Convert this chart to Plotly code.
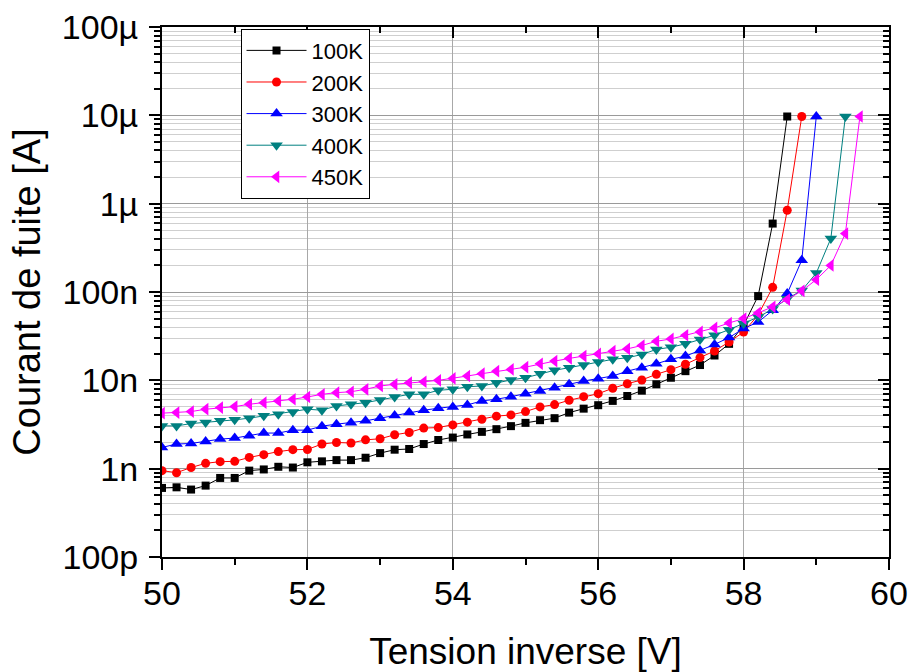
import plotly.graph_objects as go

# tension inverse [V], pas de 0.2 V
VOLTS = [50.0, 50.2, 50.4, 50.6, 50.8, 51.0, 51.2, 51.4, 51.6, 51.8,
         52.0, 52.2, 52.4, 52.6, 52.8, 53.0, 53.2, 53.4, 53.6, 53.8,
         54.0, 54.2, 54.4, 54.6, 54.8, 55.0, 55.2, 55.4, 55.6, 55.8,
         56.0, 56.2, 56.4, 56.6, 56.8, 57.0, 57.2, 57.4, 57.6, 57.8,
         58.0, 58.2, 58.4, 58.6, 58.8, 59.0, 59.2, 59.4, 59.6]

# courant de fuite [nA]
I_100K = [0.605, 0.615, 0.58, 0.643, 0.785, 0.785, 0.95, 0.98, 1.05, 1.03,
          1.18, 1.21, 1.25, 1.25, 1.33, 1.50, 1.64, 1.67, 1.90, 2.11,
          2.25, 2.44, 2.61, 2.80, 3.03, 3.30, 3.54, 3.73, 4.31, 4.78,
          5.23, 5.85, 6.65, 7.64, 9.02, 10.7, 12.7, 14.9, 19.1, 25.9,
          42, 90, 595, 9700]
I_200K = [0.95, 0.90, 1.03, 1.15, 1.20, 1.21, 1.34, 1.44, 1.56, 1.64,
          1.65, 1.90, 1.98, 1.95, 2.12, 2.18, 2.42, 2.57, 2.88, 2.92,
          3.13, 3.36, 3.63, 3.93, 4.06, 4.43, 5.00, 5.31, 5.95, 6.53,
          7.06, 8.13, 9.16, 10.1, 11.7, 13.2, 15.2, 18.1, 21.5, 27.2,
          35.2, 55, 113, 842, 9700]
I_300K = [1.74, 1.90, 1.93, 2.03, 2.16, 2.22, 2.36, 2.53, 2.53, 2.73,
          2.73, 3.03, 3.19, 3.30, 3.48, 3.73, 3.99, 4.31, 4.59, 4.83,
          5.00, 5.27, 5.85, 6.11, 6.53, 7.06, 7.57, 8.26, 9.02, 9.82,
          10.4, 11.2, 12.7, 13.9, 15.4, 17.3, 18.8, 21.8, 25.5, 30.5,
          38.5, 45.7, 62, 96, 229, 9700]
I_400K = [3.05, 3.05, 3.24, 3.33, 3.48, 3.57, 3.73, 3.96, 4.14, 4.39,
          4.71, 4.59, 5.13, 5.36, 5.59, 6.00, 6.48, 6.95, 6.95, 7.71,
          7.92, 8.47, 8.63, 9.40, 10.1, 10.7, 11.9, 13.0, 13.9, 14.9,
          16.1, 17.3, 18.0, 19.6, 22.4, 23.7, 25.9, 29.0, 32.4, 37.5,
          43.9, 52, 64, 84, 104, 164, 403, 9700]
I_450K = [4.25, 4.31, 4.43, 4.71, 4.91, 5.04, 5.36, 5.59, 5.85, 6.11,
          6.48, 6.95, 7.25, 7.43, 7.92, 8.63, 9.02, 9.40, 9.64, 10.0,
          10.5, 11.2, 11.9, 12.7, 13.3, 14.1, 15.4, 16.5, 17.7, 18.8,
          19.9, 21.4, 22.7, 24.8, 27.7, 29.4, 32.4, 35.3, 39.2, 44.6,
          50, 58, 68, 82, 103, 138, 200, 459, 9700]

Y_TICKS = [1e-10, 1e-9, 1e-8, 1e-7, 1e-6, 1e-5, 1e-4]
Y_LABELS = ["100p", "1n", "10n", "100n", "1µ", "10µ", "100µ"]
Y_MINOR = [m * d for d in Y_TICKS[:-1] for m in range(2, 10)]

FONT = "Arial, Liberation Sans, sans-serif"

series = [
    ("100K", I_100K, "black", "square", 8),
    ("200K", I_200K, "#ff0000", "circle", 9),
    ("300K", I_300K, "#0000ff", "triangle-up", 11),
    ("400K", I_400K, "#008080", "triangle-down", 11),
    ("450K", I_450K, "#ff00ff", "triangle-left", 11),
]

fig = go.Figure()
for name, vals, color, symbol, size in series:
    fig.add_trace(go.Scatter(
        x=VOLTS[:len(vals)],
        y=[v * 1e-9 for v in vals],
        mode="lines+markers",
        name=name,
        line=dict(color=color, width=1),
        marker=dict(color=color, symbol=symbol, size=size, line=dict(width=0)),
    ))

# axes haut / droite (ticks vers l'intérieur)
fig.add_trace(go.Scatter(x=[None], y=[None], xaxis="x2", yaxis="y2",
                         showlegend=False, hoverinfo="skip"))

axis_common = dict(showline=True, linecolor="black", linewidth=2,
                   tickcolor="black", tickwidth=2, automargin=False)

fig.update_layout(
    width=909, height=672,
    margin=dict(l=162, r=20, t=27, b=115),
    paper_bgcolor="white", plot_bgcolor="white",
    font=dict(family=FONT, color="black"),
    xaxis=dict(
        range=[50, 60], tickvals=[50, 52, 54, 56, 58, 60],
        ticks="outside", ticklen=11,
        tickfont=dict(size=34), ticklabelstandoff=-6,
        ticklabeloverflow="allow",
        showgrid=True, gridcolor="#a8a8a8", gridwidth=1,
        minor=dict(tickvals=[51, 53, 55, 57, 59], ticks="outside",
                   ticklen=6, tickcolor="black", tickwidth=2, showgrid=False),
        title=dict(text="Tension inverse [V]", font=dict(size=37), standoff=35),
        zeroline=False, **axis_common,
    ),
    yaxis=dict(
        type="log", range=[-10, -4],
        tickvals=Y_TICKS, ticktext=Y_LABELS,
        ticks="outside", ticklen=11,
        tickfont=dict(size=34), ticklabelstandoff=4,
        ticklabeloverflow="allow",
        showgrid=True, gridcolor="#9a9a9a", gridwidth=1,
        minor=dict(tickvals=Y_MINOR, ticks="outside", ticklen=6,
                   tickcolor="black", tickwidth=2,
                   showgrid=True, gridcolor="#cfcfcf", gridwidth=1),
        title=dict(text="Courant de fuite [A]", font=dict(size=38), standoff=10),
        zeroline=False, **axis_common,
    ),
    xaxis2=dict(
        overlaying="x", side="top", anchor="y2", range=[50, 60],
        tickvals=[50, 52, 54, 56, 58, 60], ticks="inside", ticklen=11,
        showticklabels=False, showgrid=False,
        minor=dict(tickvals=[51, 53, 55, 57, 59], ticks="inside",
                   ticklen=6, tickcolor="black", tickwidth=2),
        **axis_common,
    ),
    yaxis2=dict(
        overlaying="y", side="right", anchor="x2", type="log", range=[-10, -4],
        tickvals=Y_TICKS, ticks="inside", ticklen=11,
        showticklabels=False, showgrid=False,
        minor=dict(tickvals=Y_MINOR, ticks="inside", ticklen=6,
                   tickcolor="black", tickwidth=2),
        **axis_common,
    ),
    legend=dict(
        x=0.108, y=0.997, xanchor="left", yanchor="top",
        bgcolor="white", bordercolor="black", borderwidth=1,
        font=dict(size=22, family=FONT),
        itemwidth=60, tracegroupgap=0,
    ),
    showlegend=True,
)

# pas de marge autour de la figure dans la page
fig.write_html("out.html", config={"displayModeBar": False},
               post_script="document.body.style.margin = '0';")
